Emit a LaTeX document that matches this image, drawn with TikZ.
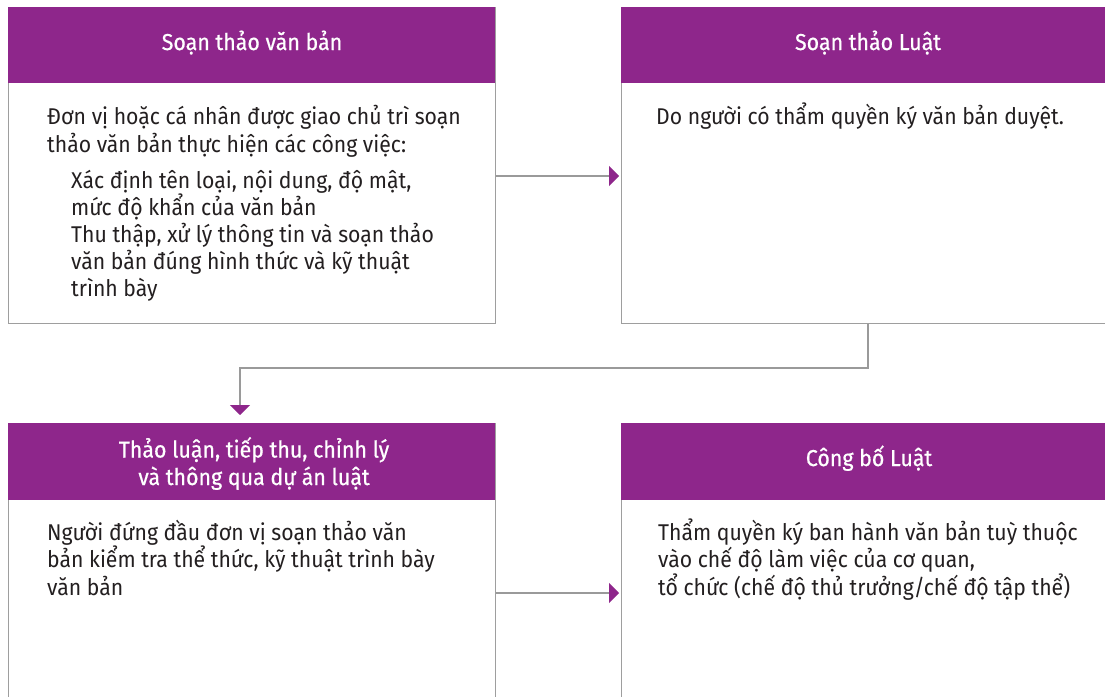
\documentclass[tikz,border=0pt]{standalone}
\usepackage{fontspec}
\setmainfont{Fira Sans}[FakeStretch=0.93]
\newfontfamily\hdrf[FakeStretch=0.93,FakeBold=0.6]{Fira Sans}
\usetikzlibrary{arrows.meta}
\definecolor{hpurple}{HTML}{8E268B}
\definecolor{bordergray}{HTML}{9E9E9E}
\definecolor{linegray}{HTML}{9A9A9A}
\definecolor{bodytext}{HTML}{231F20}
\tikzset{
  boxs/.style={draw=bordergray, line width=1.1pt, fill=white, anchor=north west, inner sep=0pt},
  hdr/.style={fill=hpurple, anchor=north west, inner sep=0pt},
  hdrtext/.style={text=white, anchor=base, inner sep=0pt, align=center, font=\hdrf\fontsize{23}{27.5}\selectfont},
  bodyt/.style={text=bodytext, anchor=base west, inner sep=0pt, align=left, font=\fontsize{22.8}{27.5}\selectfont},
  lead28/.style={font=\fontsize{22.8}{28}\selectfont},
  lead27/.style={font=\fontsize{22.8}{27}\selectfont},
  conn/.style={draw=linegray, line width=1.3pt, -{Triangle[length=10pt,width=20pt,color=hpurple]}},
}
\begin{document}
\begin{tikzpicture}[x=1pt,y=-1pt]
\useasboundingbox (0,0) rectangle (1105,696);
\clip (0,0) rectangle (1105,696);
% boxes
\node[boxs, minimum width=487pt, minimum height=316pt] (b1) at (8,7) {};
\node[boxs, minimum width=490pt, minimum height=316pt] (b2) at (621,7) {};
\node[boxs, minimum width=487pt, minimum height=300pt] (b3) at (8,423) {};
\node[boxs, minimum width=490pt, minimum height=300pt] (b4) at (621,423) {};
% headers
\node[hdr, minimum width=487.5pt, minimum height=76pt] (h1) at (7.5,6.5) {};
\node[hdr, minimum width=490pt, minimum height=76pt] (h2) at (620.5,6.5) {};
\node[hdr, minimum width=487.5pt, minimum height=77pt] (h3) at (7.5,422.5) {};
\node[hdr, minimum width=490pt, minimum height=77pt] (h4) at (620.5,422.5) {};
% header texts (base anchor = baseline of last line)
\node[hdrtext] (t1) at (252,50) {Soạn thảo văn bản};
\node[hdrtext] (t2) at (868,50) {Soạn thảo Luật};
\node[hdrtext] (t3) at (254,485) {Thảo luận, tiếp thu, chỉnh lý\\và thông qua dự án luật};
\node[hdrtext] (t4) at (869,466) {Công bố Luật};
% body texts
\node[bodyt, lead28] (p1) at (47,152) {Đơn vị hoặc cá nhân được giao chủ trì soạn\\thảo văn bản thực hiện các công việc:};
\node[bodyt, lead27] (p1b) at (71,296) {Xác định tên loại, nội dung, độ mật,\\mức độ khẩn của văn bản\\Thu thập, xử lý thông tin và soạn thảo\\văn bản đúng hình thức và kỹ thuật\\trình bày};
\node[bodyt] (p2) at (656,124) {Do người có thẩm quyền ký văn bản duyệt.};
\node[bodyt] (p3) at (47,595) {Người đứng đầu đơn vị soạn thảo văn\\bản kiểm tra thể thức, kỹ thuật trình bày\\văn bản};
\node[bodyt] (p4) at (658,595) {Thẩm quyền ký ban hành văn bản tuỳ thuộc\\vào chế độ làm việc của cơ quan,\\tổ chức (chế độ thủ trưởng/chế độ tập thể)};
% connectors
\draw[conn, shorten >=2pt] (b1.east |- 0,176) -- (b2.west |- 0,176);
\draw[conn, shorten >=2pt] (b3.east |- 0,593) -- (b4.west |- 0,593);
\coordinate (k1) at (868,368);
\coordinate (k2) at (240,368);
\draw[conn, shorten >=8pt] (b2.south -| k1) -- (k1) -- (k2) -- (b3.north -| k2);
\end{tikzpicture}
\end{document}
